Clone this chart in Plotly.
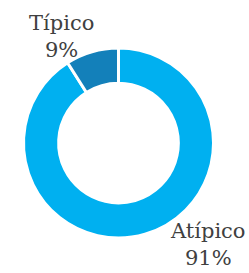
import plotly.graph_objects as go

labels = ["Atípico", "Típico"]
values = [91, 9]
colors = ["#00B0F0", "#1380BA"]
label_font = dict(family="DejaVu Serif, serif", size=21, color="#404040")

total = sum(values)
label_texts = [f"{l}<br>{round(100 * v / total)}%" for l, v in zip(labels, values)]

fig = go.Figure(go.Pie(
    labels=labels,
    values=values,
    sort=False,
    direction="clockwise",
    rotation=0,
    hole=0.63,
    marker=dict(colors=colors, line=dict(color="white", width=3)),
    textinfo="none",
    hoverinfo="label+percent",
    showlegend=False,
    domain=dict(x=[23.5/249, 213.5/249], y=[35/273, 225/273]),
))

# outside labels (Atípico bottom-right, Típico top-left)
label_pos = [(208/249, 1 - 244/273), (61/249, 1 - 37/273)]
for txt, (ax, ay) in zip(label_texts, label_pos):
    fig.add_annotation(text=txt, x=ax, y=ay, xref="paper", yref="paper",
                       showarrow=False, font=label_font, align="center",
                       xanchor="center", yanchor="middle")

fig.update_layout(
    width=249, height=273,
    margin=dict(l=0, r=0, t=0, b=0),
    paper_bgcolor="white",
)
fig.write_html("out.html", config={"displayModeBar": False},
               post_script="document.body.style.margin='0';document.body.style.overflow='hidden';")
